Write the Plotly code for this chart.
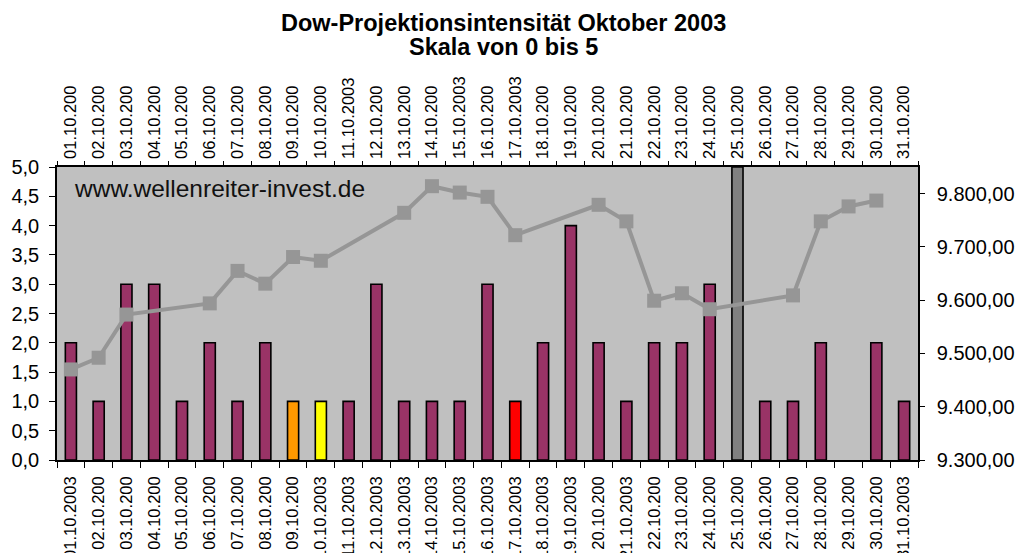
import plotly.graph_objects as go

# ---- data ----
bottom_labels = ["01.10.2003", "02.10.200", "03.10.200", "04.10.200", "05.10.200", "06.10.200",
                 "07.10.200", "08.10.200", "09.10.200", "10.10.2003", "11.10.2003", "12.10.2003",
                 "13.10.2003", "14.10.2003", "15.10.2003", "16.10.2003", "17.10.2003", "18.10.2003",
                 "19.10.2003", "20.10.200", "21.10.2003", "22.10.200", "23.10.200", "24.10.200",
                 "25.10.200", "26.10.200", "27.10.200", "28.10.200", "29.10.200", "30.10.200",
                 "31.10.2003"]
top_labels = ["01.10.200", "02.10.200", "03.10.200", "04.10.200", "05.10.200", "06.10.200",
              "07.10.200", "08.10.200", "09.10.200", "10.10.200", "11.10.2003", "12.10.200",
              "13.10.200", "14.10.200", "15.10.2003", "16.10.200", "17.10.2003", "18.10.200",
              "19.10.200", "20.10.200", "21.10.200", "22.10.200", "23.10.200", "24.10.200",
              "25.10.200", "26.10.200", "27.10.200", "28.10.200", "29.10.200", "30.10.200",
              "31.10.200"]

intensity = [2, 1, 3, 3, 1, 2, 1, 2, 1, 1, 1, 3, 1, 1, 1, 3, 1, 2, 4, 2, 1, 2, 2, 3, 5,
             1, 1, 2, 0, 2, 1]
bar_colors = ["#993366"] * 31
bar_colors[8] = "#FF9900"
bar_colors[9] = "#FFFF00"
bar_colors[16] = "#FF0000"
bar_colors[24] = "#808080"

dow = [9470, 9492, 9573, None, None, 9594, 9655, 9631, 9681, 9674, None, None,
       9764, 9814, 9802, 9794, 9722, None, None, 9779, 9748, 9599, 9613, 9583,
       None, None, 9609, 9748, 9776, 9787, None]

left_ticks = [0, 0.5, 1, 1.5, 2, 2.5, 3, 3.5, 4, 4.5, 5]
right_ticks = [9300, 9400, 9500, 9600, 9700, 9800]

FONT = "Liberation Sans, Arial, sans-serif"

bar_line_widths = [1.6 if v > 0 else 0 for v in intensity]

fig = go.Figure()
fig.add_trace(go.Bar(
    x=bottom_labels, y=intensity, width=0.4,
    marker=dict(color=bar_colors, line=dict(color="#000000", width=bar_line_widths)),
    xaxis="x", yaxis="y", showlegend=False, hoverinfo="x+y"))
fig.add_trace(go.Scatter(
    x=top_labels, y=dow, mode="lines+markers", connectgaps=True,
    line=dict(color="#969696", width=4),
    marker=dict(symbol="square", size=14, color="#969696"),
    xaxis="x2", yaxis="y2", showlegend=False))

axis_common = dict(showline=True, linecolor="#000000", linewidth=1.5, showgrid=False,
                   zeroline=False, ticks="outside", tickcolor="#000000", tickwidth=1.2)

fig.update_layout(
    width=1020, height=553,
    paper_bgcolor="#FFFFFF", plot_bgcolor="#C0C0C0",
    separators=",.",
    margin=dict(l=57, r=102, t=167, b=93, autoexpand=False),
    font=dict(family=FONT, color="#000000"),
    xaxis=dict(type="category", categoryorder="array", categoryarray=bottom_labels,
               range=[-0.5, 30.5], tickson="boundaries", tickangle=-90, ticklen=6,
               ticklabelstandoff=8,
               tickfont=dict(size=16.5, family=FONT), automargin=False, **axis_common),
    xaxis2=dict(type="category", categoryorder="array", categoryarray=top_labels,
                range=[-0.5, 30.5], overlaying="x", side="top", tickson="boundaries",
                tickangle=-90, ticklen=4, ticklabelstandoff=3,
                tickfont=dict(size=16.5, family=FONT),
                automargin=False, **axis_common),
    yaxis=dict(range=[0, 5], tickvals=left_ticks, tickformat=".1f", ticklen=6,
               ticklabelstandoff=6,
               tickfont=dict(size=20, family=FONT), automargin=False, **axis_common),
    yaxis2=dict(range=[9300, 9850], tickvals=right_ticks, tickformat=",.2f", ticklen=5,
                ticklabelstandoff=8,
                overlaying="y", side="right", tickfont=dict(size=20, family=FONT),
                automargin=False, **axis_common),
    annotations=[
        dict(text="<b>Dow-Projektionsintensität Oktober 2003</b>", xref="paper", yref="paper",
             x=0.519, y=1.492, xanchor="center", yanchor="middle", showarrow=False,
             font=dict(size=23.5, family=FONT, color="#000000")),
        dict(text="<b>Skala von 0 bis 5</b>", xref="paper", yref="paper",
             x=0.519, y=1.408, xanchor="center", yanchor="middle", showarrow=False,
             font=dict(size=23.5, family=FONT, color="#000000")),
        dict(text="www.wellenreiter-invest.de", xref="paper", yref="paper",
             x=0.018, y=0.928, xanchor="left", yanchor="middle", showarrow=False,
             font=dict(size=24.5, family=FONT, color="#111111")),
    ],
)

fig.write_html("out.html", config={"displayModeBar": False},
               post_script="document.body.style.margin='0';document.body.style.overflow='hidden';")
